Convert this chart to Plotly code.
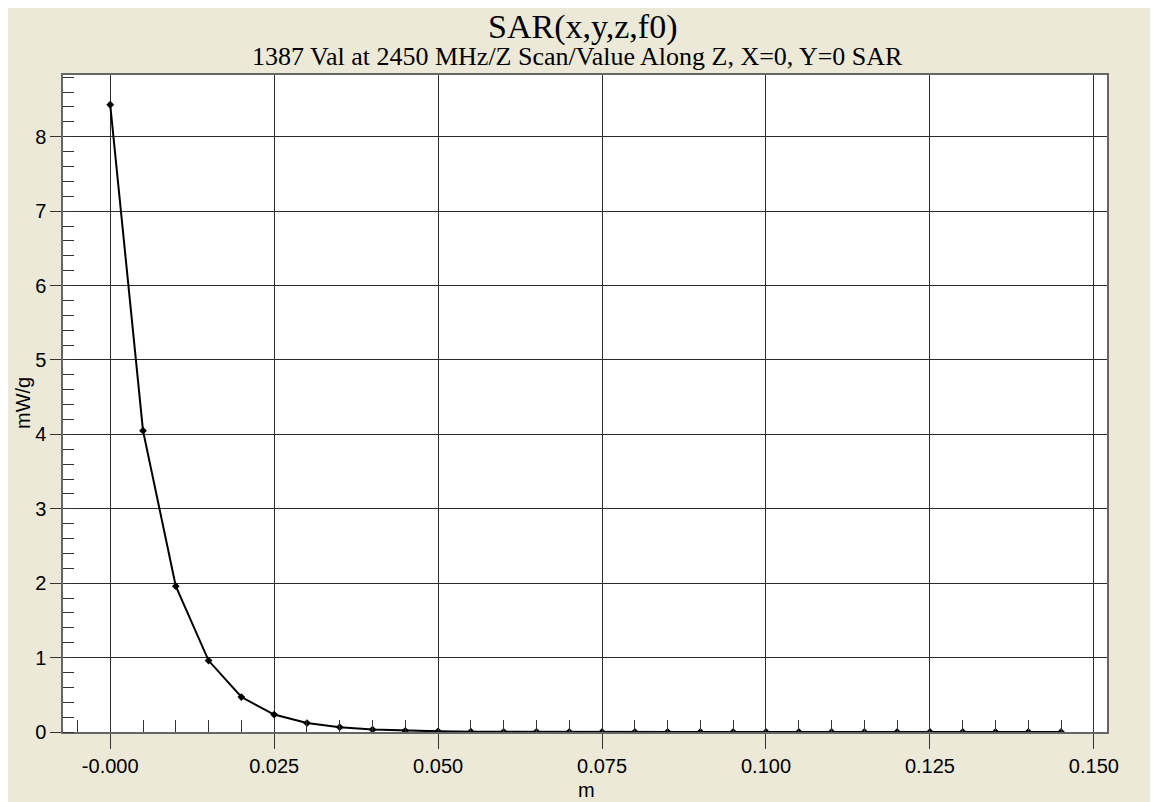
import plotly.graph_objects as go

z_m = [0.000, 0.005, 0.010, 0.015, 0.020, 0.025, 0.030, 0.035, 0.040, 0.045,
       0.050, 0.055, 0.060, 0.065, 0.070, 0.075, 0.080, 0.085, 0.090, 0.095,
       0.100, 0.105, 0.110, 0.115, 0.120, 0.125, 0.130, 0.135, 0.140, 0.145]
sar = [8.43, 4.05, 1.96, 0.96, 0.47, 0.234, 0.12, 0.065, 0.032, 0.016,
       0.009, 0.005, 0.003, 0.002, 0.001, 0.001, 0.001, 0.0, 0.0, 0.0,
       0.0, 0.0, 0.0, 0.0, 0.0, 0.0, 0.0, 0.0, 0.0, 0.0]

x_tickvals = [0.0, 0.025, 0.05, 0.075, 0.1, 0.125, 0.15]
x_ticktext = ["-0.000", "0.025", "0.050", "0.075", "0.100", "0.125", "0.150"]
y_tickvals = [0, 1, 2, 3, 4, 5, 6, 7, 8]

title = "SAR(x,y,z,f0)"
subtitle = "1387 Val at 2450 MHz/Z Scan/Value Along Z, X=0, Y=0 SAR"
x_title = "m"
y_title = "mW/g"
bg = "#ECE9D8"
grid = "#2b2b2b"

# page has an 8px body margin; figure coordinates are shifted by it
OFF = 8
W, H = 1158 - OFF, 802 - OFF
L, R, T, B = 63 - OFF, W - (1107 - OFF), 75 - OFF, H - (732 - OFF)
PW, PH = W - L - R, H - T - B


def px_to_paper(xp, yp):
    return ((xp - OFF) - L) / PW, (H - B - (yp - OFF)) / PH


fig = go.Figure()
fig.add_trace(go.Scatter(
    x=z_m, y=sar, mode="lines+markers",
    line=dict(color="black", width=2),
    marker=dict(symbol="diamond", size=6, color="black"),
    showlegend=False,
))

sans = "Liberation Sans, Arial, sans-serif"
serif = "Liberation Serif, Times New Roman, serif"
tickfont = dict(family=sans, size=20, color="black")

tx, ty = px_to_paper(583, 27)
sx, sy = px_to_paper(577, 56)
mx, my = px_to_paper(586, 790)
gx, gy = px_to_paper(23, 403)

fig.update_layout(
    width=W, height=H,
    paper_bgcolor=bg, plot_bgcolor="white",
    margin=dict(l=L, r=R, t=T, b=B, autoexpand=False),
    xaxis=dict(
        range=[-0.0072, 0.152], tickvals=x_tickvals, ticktext=x_ticktext,
        ticks="outside", ticklen=15, tickcolor="#333", tickwidth=1,
        showgrid=True, gridcolor=grid, gridwidth=1,
        showline=True, linecolor="#666", linewidth=1.5, mirror=True,
        zeroline=False, tickfont=tickfont, automargin=False,
        minor=dict(dtick=0.005, tick0=0, ticks="inside", ticklen=12,
                   tickcolor="#333", tickwidth=1, showgrid=False),
    ),
    yaxis=dict(
        range=[0, 8.83], tickvals=y_tickvals,
        ticks="outside", ticklen=11, tickcolor="#333", tickwidth=1,
        showgrid=True, gridcolor=grid, gridwidth=1,
        showline=True, linecolor="#666", linewidth=1.5, mirror=True,
        zeroline=False, tickfont=tickfont, automargin=False,
        minor=dict(dtick=0.2, tick0=0, ticks="inside", ticklen=11,
                   tickcolor="#333", tickwidth=1, showgrid=False),
    ),
    annotations=[
        dict(text=title, x=tx, xref="paper", y=ty, yref="paper", showarrow=False,
             yanchor="middle", font=dict(family=serif, size=34, color="black")),
        dict(text=subtitle, x=sx, xref="paper", y=sy, yref="paper", showarrow=False,
             yanchor="middle", font=dict(family=serif, size=26, color="black")),
        dict(text=x_title, x=mx, xref="paper", y=my, yref="paper", showarrow=False,
             yanchor="middle", font=dict(family=sans, size=20, color="black")),
        dict(text=y_title, x=gx, xref="paper", y=gy, yref="paper", showarrow=False,
             textangle=-90, xanchor="center", yanchor="middle",
             font=dict(family=sans, size=20, color="black")),
    ],
)

fig.write_html("out.html")
